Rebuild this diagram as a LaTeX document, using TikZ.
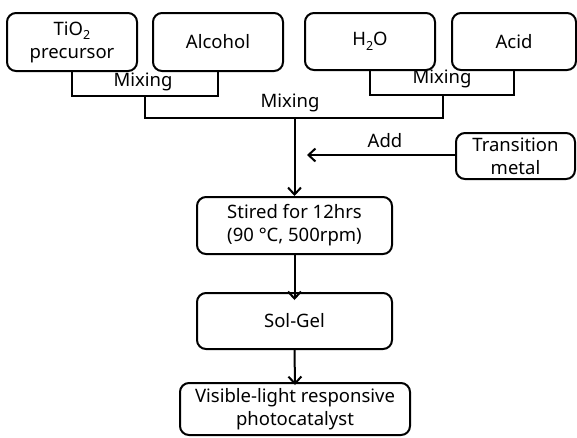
\documentclass[tikz,border=0pt]{standalone}
\usepackage{fontspec}
\setmainfont{Noto Sans}
\usetikzlibrary{arrows.meta}
\tikzset{
  box/.style={draw, line width=2pt, rounded corners=9pt, align=center, inner sep=0pt, font=\fontsize{18.5}{23}\selectfont},
  lbl/.style={font=\fontsize{18.5}{20}\selectfont, inner sep=0pt},
  conn/.style={line width=2pt},
  arr/.style={line width=2pt, -{Straight Barb[length=7pt,width=13pt]}}
}
\newcommand{\mysub}[1]{\raisebox{-0.25em}{\fontsize{12.5}{12.5}\selectfont #1}}
\begin{document}
\begin{tikzpicture}[x=1pt,y=-1pt]
\useasboundingbox (0,0) rectangle (577,437);
\node[box, minimum width=130pt, minimum height=58pt] (tio2) at (72,42) {TiO\mysub{2}\\precursor};
\node[box, minimum width=130pt, minimum height=58pt] (alc) at (218,42) {Alcohol};
\node[box, minimum width=130pt, minimum height=57pt] (h2o) at (370,41.5) {H\mysub{2}O};
\node[box, minimum width=124pt, minimum height=57pt] (acid) at (514,41.5) {Acid};
\node[box, minimum width=119pt, minimum height=46pt] (trans) at (515.5,156) {Transition\\metal};
\node[box, minimum width=195pt, minimum height=57pt] (stir) at (294.5,225.5) {Stired for 12hrs\\(90 °C, 500rpm)};
\node[box, minimum width=195pt, minimum height=56pt] (sol) at (294.5,321) {Sol-Gel};
\node[box, minimum width=230pt, minimum height=52pt] (vis) at (295,409) {Visible-light responsive\\photocatalyst};

\coordinate (m1) at (145,96);
\coordinate (m2) at (443,95);
\coordinate (jl) at (145,118);
\coordinate (jr) at (443,118);
\coordinate (j) at (stir.north |- jl);
\coordinate (addend) at (307,155);

\draw[conn] (tio2.south) |- (m1) -| (alc.south);
\draw[conn] (h2o.south) |- (m2) -| (acid.south);
\draw[conn] (m1) -- (jl) -- (jr) -- (m2);
\draw[arr] (j) -- (stir.north);
\draw[arr] (trans.west |- addend) -- (addend);
\draw[arr] (stir.south) -- ([yshift=-8pt]sol.north);
\draw[arr] (sol.south) -- ([yshift=-3pt]vis.north);

\node[lbl] (mix1) at (143,82) {Mixing};
\node[lbl] (mix2) at (442,79) {Mixing};
\node[lbl] (mix3) at (290,103) {Mixing};
\node[lbl] (add) at (385,141) {Add};
\end{tikzpicture}
\end{document}
